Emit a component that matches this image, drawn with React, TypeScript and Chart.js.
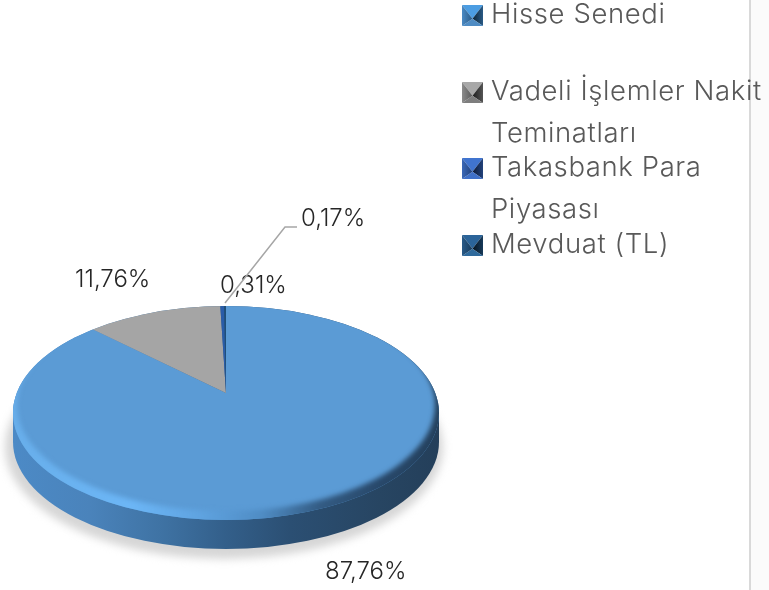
import React, { useEffect, useRef } from "react";
import { Chart, registerables } from "chart.js";

Chart.register(...registerables);

const categories: string[][] = [
  ["Hisse Senedi"],
  ["Vadeli İşlemler Nakit", "Teminatları"],
  ["Takasbank Para", "Piyasası"],
  ["Mevduat (TL)"],
];
const shares = [87.76, 11.76, 0.31, 0.17];
const sliceColors = ["#5b9bd5", "#a5a5a5", "#2a5ca8", "#1f4e79"];
// top, left outer, left inner, right inner, right outer, bottom
const markerShades = [
  ["#4c9de2", "#4a8ac4", "#2a5a86", "#0c2436", "#2a5a86", "#4f8cc4"],
  ["#a8a8a8", "#8c8c8c", "#5a5a5a", "#1c1c1c", "#555555", "#7e7e7e"],
  ["#4074cf", "#3a68b8", "#22427c", "#0c1a38", "#22427c", "#3f70c8"],
  ["#2b6499", "#285a88", "#173a5a", "#061420", "#173a5a", "#2f6a9c"],
];
const legendRows = [
  { box: 5, lines: [23] },
  { box: 82, lines: [100, 142] },
  { box: 158, lines: [176, 218] },
  { box: 235, lines: [253] },
];
const labelAnchors = [
  { x: 325, y: 579 },
  { x: 75, y: 287 },
  { x: 220, y: 293 },
  { x: 301, y: 226 },
];

const apex = { x: 226, y: 393 };
const rim = { x: 226, y: 413, rx: 213, ry: 107 };
const face = { x: 226, y: 405, rx: 209, ry: 106 };
const depth = 29;

function ellipse(ctx: CanvasRenderingContext2D, e: { x: number; y: number; rx: number; ry: number }) {
  ctx.ellipse(e.x, e.y, e.rx, e.ry, 0, 0, Math.PI * 2);
}

function stops(ctx: CanvasRenderingContext2D, list: [number, string][]) {
  const g = ctx.createLinearGradient(rim.x - rim.rx, 0, rim.x + rim.rx, 0);
  list.forEach(([x, c]) => g.addColorStop((x - (rim.x - rim.rx)) / (2 * rim.rx), c));
  return g;
}

const pie3d = {
  id: "pie3d",
  beforeDraw(chart: any) {
    const ctx: CanvasRenderingContext2D = chart.ctx;
    ctx.save();
    ctx.fillStyle = "#fbfbfb";
    ctx.fillRect(750, 0, 19, 590);
    ctx.fillStyle = "#d9d9d9";
    ctx.fillRect(749, 0, 2, 590);
    // soft ground shadow
    ctx.filter = "blur(4px)";
    ctx.fillStyle = "#d6d6d6";
    ctx.beginPath();
    ellipse(ctx, { x: 224, y: rim.y + depth + 5, rx: rim.rx + 6, ry: rim.ry + 5 });
    ctx.fill();
    ctx.filter = "none";
    // side wall
    ctx.fillStyle = stops(ctx, [
      [13, "#4c8ac6"],
      [90, "#4a83bb"],
      [160, "#3f73a4"],
      [226, "#335f8a"],
      [290, "#2b4f73"],
      [380, "#274562"],
      [439, "#243f5a"],
    ]);
    ctx.beginPath();
    ellipse(ctx, rim);
    ctx.fill();
    ctx.beginPath();
    ellipse(ctx, { ...rim, y: rim.y + depth });
    ctx.fill();
    ctx.fillRect(rim.x - rim.rx, rim.y, rim.rx * 2, depth);
    ctx.restore();
  },
  beforeDatasetsDraw(chart: any) {
    const ctx: CanvasRenderingContext2D = chart.ctx;
    const arc = chart.getDatasetMeta(0).data[0];
    ctx.save();
    ctx.beginPath();
    ellipse(ctx, rim);
    ctx.clip();
    ctx.translate(apex.x, apex.y);
    ctx.scale(1.45, 0.67);
    ctx.translate(-arc.x, -arc.y);
  },
  afterDatasetsDraw(chart: any) {
    const ctx: CanvasRenderingContext2D = chart.ctx;
    ctx.restore();
    // bevel between the face and the rim
    ctx.save();
    ctx.beginPath();
    ellipse(ctx, rim);
    ctx.clip();
    ctx.filter = "blur(2.5px)";
    ctx.fillStyle = stops(ctx, [
      [13, "#68aeea"],
      [130, "#6cb6f6"],
      [200, "#5fa3e0"],
      [262, "#4f8cc4"],
      [320, "#335b83"],
      [380, "#28486a"],
      [439, "#24405c"],
    ]);
    ctx.beginPath();
    ellipse(ctx, { ...rim, rx: rim.rx + 8, ry: rim.ry + 8 });
    ellipse(ctx, face);
    ctx.fill("evenodd");
    ctx.restore();

    // legend
    ctx.save();
    ctx.textBaseline = "alphabetic";
    ctx.textAlign = "left";
    ctx.font = '300 27.5px "Inter", "Noto Sans", sans-serif';
    (ctx as any).letterSpacing = "0.6px";
    chart.data.labels.forEach((lines: string[], i: number) => {
      const row = legendRows[i];
      const [x0, y0, s] = [462, row.box, 21];
      const c = { x: x0 + s / 2, y: y0 + s * 0.66 };
      const [top, leftOut, leftIn, rightIn, rightOut, bottom] = markerShades[i];
      const leftFill = ctx.createLinearGradient(x0, 0, c.x, 0);
      leftFill.addColorStop(0, leftOut);
      leftFill.addColorStop(1, leftIn);
      const rightFill = ctx.createLinearGradient(c.x, 0, x0 + s, 0);
      rightFill.addColorStop(0, rightIn);
      rightFill.addColorStop(1, rightOut);
      const tris: [number, number, number, number, any][] = [
        [x0, y0, x0 + s, y0, top],
        [x0 + s, y0, x0 + s, y0 + s, rightFill],
        [x0 + s, y0 + s, x0, y0 + s, bottom],
        [x0, y0 + s, x0, y0, leftFill],
      ];
      tris.forEach(([ax, ay, bx, by, col]) => {
        ctx.fillStyle = col;
        ctx.beginPath();
        ctx.moveTo(ax, ay);
        ctx.lineTo(bx, by);
        ctx.lineTo(c.x, c.y);
        ctx.closePath();
        ctx.fill();
      });
      ctx.fillStyle = "#595959";
      lines.forEach((t, k) => ctx.fillText(t, 491, row.lines[k]));
    });
    // value labels
    (ctx as any).letterSpacing = "0px";
    ctx.font = '300 24px "Inter", "Noto Sans", sans-serif';
    ctx.fillStyle = "#262626";
    chart.data.datasets[0].data.forEach((v: number, i: number) => {
      const a = labelAnchors[i];
      ctx.fillText(v.toFixed(2).replace(".", ",") + "%", a.x, a.y);
    });
    // leader line
    ctx.strokeStyle = "#a6a6a6";
    ctx.lineWidth = 1.5;
    ctx.beginPath();
    ctx.moveTo(225, 303);
    ctx.lineTo(285, 227);
    ctx.lineTo(297, 227);
    ctx.stroke();
    ctx.restore();
  },
};

export default function App() {
  const ref = useRef<HTMLCanvasElement | null>(null);
  useEffect(() => {
    document.body.style.margin = "0";
    const chart = new Chart(ref.current!, {
      type: "pie",
      data: {
        labels: categories,
        datasets: [{ data: shares, backgroundColor: sliceColors, borderWidth: 0 }],
      },
      options: {
        animation: false,
        responsive: false,
        layout: { padding: { left: 13, right: 330, top: 180, bottom: 0 } },
        plugins: { legend: { display: false }, tooltip: { enabled: false } },
      },
      plugins: [pie3d],
    } as any);
    return () => chart.destroy();
  }, []);
  return <canvas ref={ref} width={769} height={590} style={{ display: "block" }} />;
}
